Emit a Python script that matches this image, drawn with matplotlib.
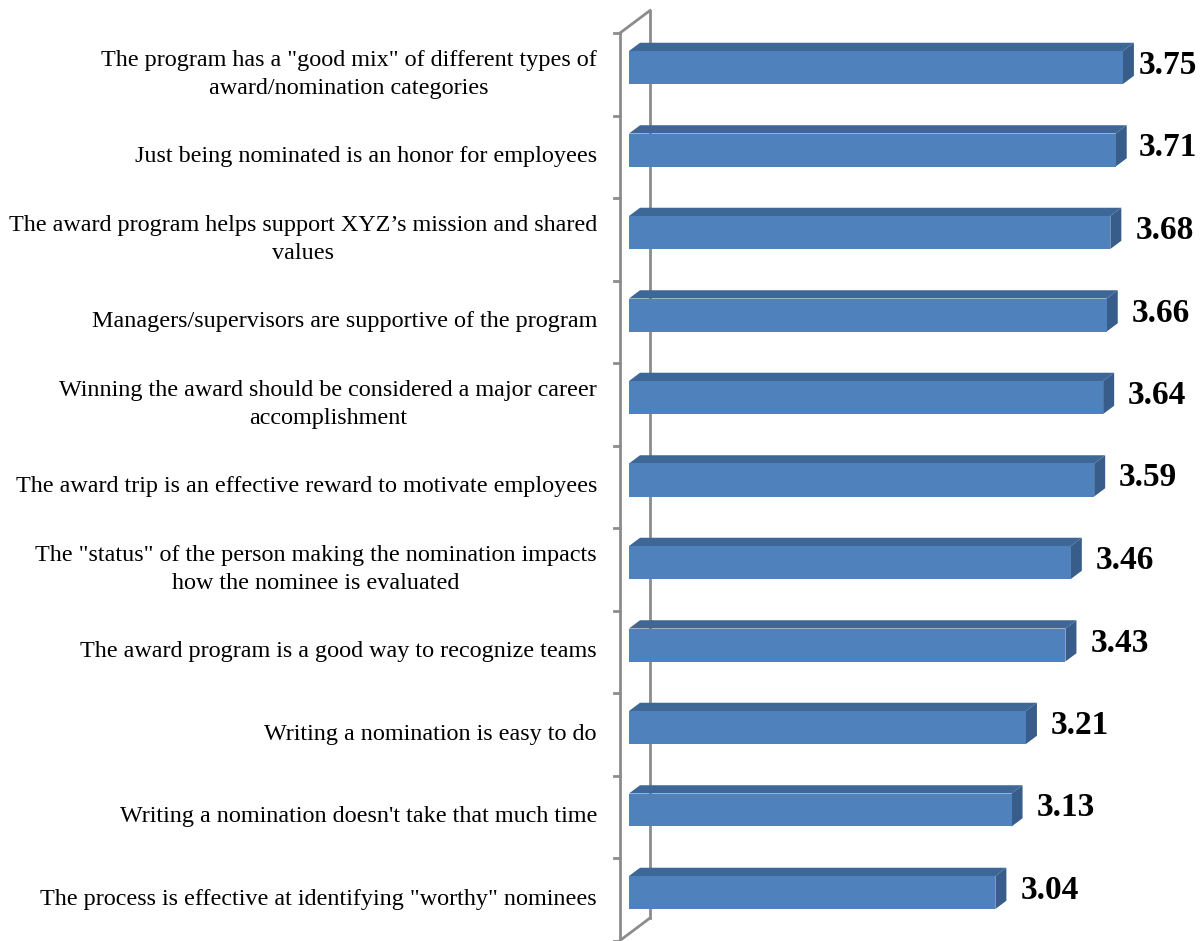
import matplotlib
matplotlib.use("Agg")
import matplotlib.pyplot as plt
from matplotlib.patches import Polygon

categories = [
    'The program has a "good mix" of different types of\naward/nomination categories',
    "Just being nominated is an honor for employees",
    "The award program helps support XYZ\u2019s mission and shared\nvalues",
    "Managers/supervisors are supportive of the program",
    "Winning the award should be considered a major career\naccomplishment",
    "The award trip is an effective reward to motivate employees",
    'The "status" of the person making the nomination impacts\nhow the nominee is evaluated',
    "The award program is a good way to recognize teams",
    "Writing a nomination is easy to do",
    "Writing a nomination doesn't take that much time",
    'The process is effective at identifying "worthy" nominees',
]
scores = [3.75, 3.71, 3.68, 3.66, 3.64, 3.59, 3.46, 3.43, 3.21, 3.13, 3.04]
axis_min = 1.0

W, H = 1201, 941
fig = plt.figure(figsize=(W / 100, H / 100), dpi=100)
plt.rcParams["font.family"] = ["Liberation Serif", "DejaVu Serif"]

# plot area: front plane starts at x=620 px; one score unit ~179.6 px, one row 82.5 px
left_px = 620
px_per_unit = 179.6
row_px = 82.5
top_center_px = 74.25
ax = fig.add_axes([left_px / W, 0, 1 - left_px / W, 1])
ax.set_xlim(axis_min, axis_min + (W - left_px) / px_per_unit)
ax.set_ylim((H - top_center_px) / row_px, -top_center_px / row_px)
ax.axis("off")

# 3-D depth vector (px -> data units)
dep_x = 30 / px_per_unit
dep_y = -22.5 / row_px
f0, f1 = 0.3, 0.667        # bar front / back depth fractions
bar_h = 0.4

front_col = "#4F81BD"
top_col = "#3D6797"
side_col = "#385D8A"
axis_col = "#8C8C8C"

n = len(categories)
lo, hi = -0.5, n - 0.5

# walls: front and back vertical lines with diagonal connectors
ax.plot([axis_min, axis_min], [lo, hi], color=axis_col, lw=2, clip_on=False, zorder=1)
ax.plot([axis_min + dep_x, axis_min + dep_x], [lo + dep_y, hi + dep_y],
        color=axis_col, lw=2, clip_on=False, zorder=1)
for yy in (lo, hi):
    ax.plot([axis_min, axis_min + dep_x], [yy, yy + dep_y],
            color=axis_col, lw=2, clip_on=False, zorder=1)
# tick marks at row boundaries
tick_len = 6 / px_per_unit
for k in range(n + 1):
    yy = lo + k
    ax.plot([axis_min - tick_len, axis_min], [yy, yy], color=axis_col, lw=2,
            clip_on=False, zorder=1)

for i, (lab, v) in enumerate(zip(categories, scores)):
    y0 = i - bar_h / 2
    y1 = i + bar_h / 2
    fx, fy = f0 * dep_x, f0 * dep_y
    bx, by = f1 * dep_x, f1 * dep_y
    x0 = axis_min
    # top face
    ax.add_patch(Polygon([(x0 + fx, y0 + fy), (v + fx, y0 + fy), (v + bx, y0 + by),
                          (x0 + bx, y0 + by)], closed=True, fc=top_col, ec="none",
                         zorder=3, clip_on=False))
    # side face
    ax.add_patch(Polygon([(v + fx, y0 + fy), (v + bx, y0 + by), (v + bx, y1 + by),
                          (v + fx, y1 + fy)], closed=True, fc=side_col, ec="none",
                         zorder=3, clip_on=False))
    # front face
    ax.add_patch(Polygon([(x0 + fx, y0 + fy), (v + fx, y0 + fy), (v + fx, y1 + fy),
                          (x0 + fx, y1 + fy)], closed=True, fc=front_col,
                         ec="none", zorder=4, clip_on=False))
    # value label
    lx = min(v + bx + 14 / px_per_unit, axis_min + (W - left_px - 62) / px_per_unit)
    ax.text(lx, i + fy - 2 / row_px, f"{v:.2f}", ha="left", va="center", fontsize=24,
            fontweight="bold", color="black", zorder=5)
    # category label
    ax.text(axis_min - 23 / px_per_unit, i, lab, ha="right", va="center",
            multialignment="center", fontsize=17.4, color="black", clip_on=False,
            linespacing=1.45)

fig.savefig("out.png", dpi=100, facecolor="white")
